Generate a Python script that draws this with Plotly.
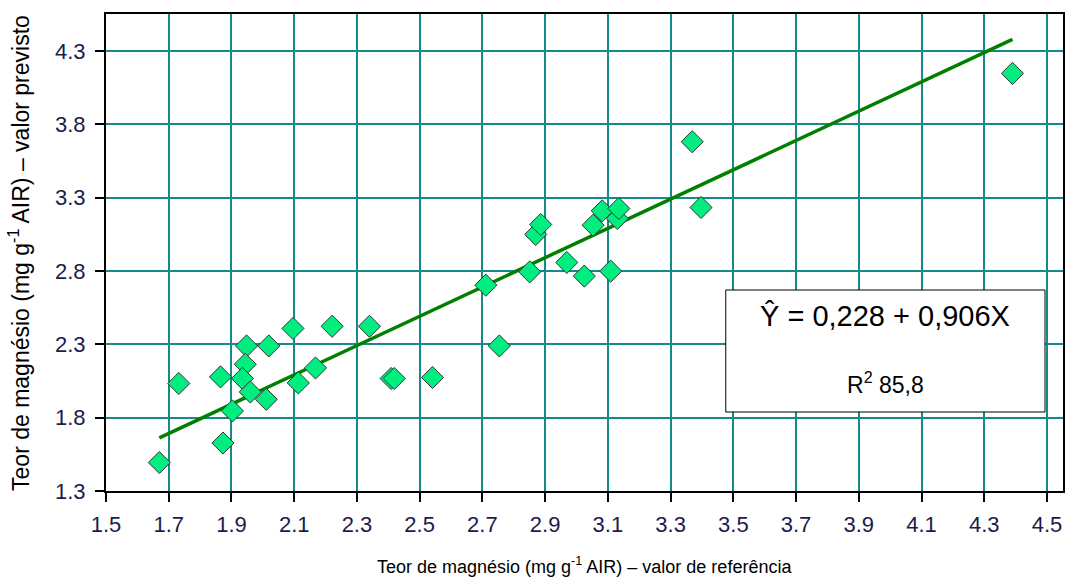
import plotly.graph_objects as go

# Reference values (x) and predicted values (y)
ref_x = [1.670, 1.732, 1.873, 1.865, 1.948, 1.944, 1.935, 1.960, 1.903, 2.019,
         2.011, 2.096, 2.113, 2.168, 2.221, 2.340, 2.409, 2.419, 2.541, 2.711,
         2.754, 2.851, 2.870, 2.886, 2.969, 3.025, 3.053, 3.082, 3.109, 3.130,
         3.135, 3.369, 3.397, 4.390]
pred_y = [1.494, 2.033, 1.627, 2.078, 2.289, 2.164, 2.067, 1.975, 1.846, 2.289,
          1.925, 2.408, 2.037, 2.139, 2.423, 2.423, 2.067, 2.067, 2.074, 2.703,
          2.289, 2.794, 3.049, 3.117, 2.858, 2.765, 3.112, 3.210, 2.799, 3.158,
          3.226, 3.681, 3.233, 4.147]

# Drawn fitted line end points
fit_x = [1.67, 4.39]
fit_y = [1.662, 4.379]

x_ticks = [round(1.5 + 0.2 * i, 1) for i in range(16)]
y_ticks = [1.3, 1.8, 2.3, 2.8, 3.3, 3.8, 4.3]
x_tick_text = [f"{v:.1f}" for v in x_ticks]
y_tick_text = [f"{v:.1f}" for v in y_ticks]

equation = "Ŷ = 0,228 + 0,906X"
r2_text = "R<sup>2</sup> 85,8"
x_title = "Teor de magnésio (mg g<sup>-1</sup> AIR) – valor de referência"
y_title = "Teor de magnésio (mg g<sup>-1</sup> AIR) – valor previsto"

FONT = "Liberation Sans, Arial, sans-serif"
GRID = "#168a8a"
TICKCOL = "#1c1c4c"

fig = go.Figure()
fig.add_trace(go.Scatter(
    x=fit_x, y=fit_y, mode="lines",
    line=dict(color="#008000", width=3.5),
    showlegend=False, hoverinfo="skip"))
fig.add_trace(go.Scatter(
    x=ref_x, y=pred_y, mode="markers",
    marker=dict(symbol="diamond", size=17, color="#00EE80",
                line=dict(color="#333333", width=1)),
    showlegend=False))

fig.update_layout(
    width=1073, height=579,
    margin=dict(l=106, r=8, t=14, b=88),
    paper_bgcolor="white", plot_bgcolor="white",
    font=dict(family=FONT, color="black"),
    xaxis=dict(range=[1.5, 4.551], tickmode="array", tickvals=x_ticks,
               ticktext=x_tick_text, showgrid=True, gridcolor=GRID, gridwidth=2,
               zeroline=False, showline=True, linecolor="black", linewidth=2,
               mirror=True, ticks="outside", ticklen=9, tickwidth=1.5,
               tickcolor="black", ticklabelstandoff=4,
               tickfont=dict(size=22, color=TICKCOL, family=FONT)),
    yaxis=dict(range=[1.3, 4.552], tickmode="array", tickvals=y_ticks,
               ticktext=y_tick_text, showgrid=True, gridcolor=GRID, gridwidth=2,
               zeroline=False, showline=True, linecolor="black", linewidth=2,
               mirror=True, ticks="outside", ticklen=9, tickwidth=1.5,
               tickcolor="black", ticklabelstandoff=5,
               tickfont=dict(size=22, color=TICKCOL, family=FONT)),
    shapes=[dict(type="rect", xref="paper", yref="paper",
                 x0=0.6476, x1=0.9812, y0=0.1656, y1=0.4214,
                 line=dict(color="black", width=1), fillcolor="white", layer="above")],
    annotations=[
        dict(text=equation, xref="paper", yref="paper", x=0.8144, y=0.367,
             showarrow=False, font=dict(size=29, color="black", family=FONT),
             xanchor="center", yanchor="middle"),
        dict(text=r2_text, xref="paper", yref="paper", x=0.8144, y=0.2264,
             showarrow=False, font=dict(size=23, color="black", family=FONT),
             xanchor="center", yanchor="middle"),
        dict(text=x_title, xref="paper", yref="paper", x=0.5, y=-0.157,
             showarrow=False, font=dict(size=18, color="black", family=FONT),
             xanchor="center", yanchor="middle"),
        dict(text=y_title, xref="paper", yref="paper", x=-0.0915, y=0.5,
             showarrow=False, textangle=-90,
             font=dict(size=23, color="black", family=FONT),
             xanchor="center", yanchor="middle"),
    ],
)

fig.write_html("out.html")
